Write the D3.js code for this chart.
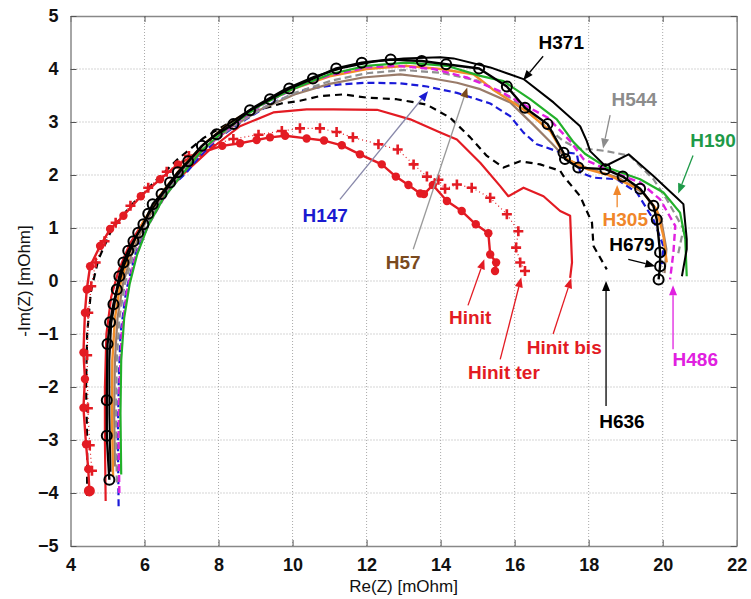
<!DOCTYPE html>
<html>
<head>
<meta charset="utf-8">
<script src="https://cdn.jsdelivr.net/npm/d3@7"></script>
<style>
  body { margin: 0; background: #fff; }
  svg text { font-family: Arial, "Liberation Sans", sans-serif; }
</style>
</head>
<body>
<script>
// Nyquist plot data, [Re(Z), -Im(Z)] in mOhm
var hinit = [[4.51,-3.96],[4.48,-3.55],[4.42,-3.08],[4.35,-2.39],[4.39,-1.85],[4.35,-1.35],[4.39,-0.6],[4.44,-0.16],[4.53,0.28],[4.8,0.66],[5.07,0.98],[5.43,1.23],[5.9,1.6],[6.42,1.92],[6.9,2.2],[7.5,2.42],[8.1,2.55],[8.58,2.6],[9.03,2.66],[9.39,2.71],[9.8,2.74],[10.38,2.69],[10.85,2.65],[11.33,2.56],[11.82,2.39],[12.41,2.2],[12.79,1.97],[13.13,1.81],[13.45,1.65],[13.55,1.64],[13.79,1.81],[14.17,1.51],[14.57,1.32],[14.95,1.07],[15.29,0.9],[15.34,0.5],[15.5,0.35],[15.47,0.19]];
var hinitTer = [[4.58,-3.58],[4.52,-3.1],[4.47,-2.4],[4.45,-1.4],[4.48,-0.6],[4.56,-0.1],[4.68,0.35],[4.92,0.75],[5.22,1.1],[5.62,1.42],[6.1,1.76],[6.6,2.06],[7.2,2.36],[7.8,2.56],[8.4,2.68],[9.08,2.76],[9.71,2.83],[10.2,2.88],[10.74,2.88],[11.19,2.81],[11.63,2.71],[12.32,2.58],[12.84,2.48],[13.27,2.2],[13.63,1.97],[13.94,1.91],[14.12,1.74],[14.44,1.82],[14.84,1.76],[15.34,1.57],[15.79,1.26],[16.1,0.94],[16.04,0.63],[16.15,0.35],[16.28,0.19]];
var hinitBis = [[4.95,-4.15],[4.93,-3],[4.93,-2],[4.97,-1],[5.1,-0.3],[5.3,0.2],[5.6,0.7],[6.0,1.15],[6.5,1.6],[7.1,2.05],[7.8,2.5],[8.58,2.92],[9.48,3.18],[10.38,3.24],[11.1,3.24],[12.28,3.23],[13.18,3.05],[13.99,2.8],[14.44,2.67],[15.07,2.23],[15.61,1.79],[15.83,1.6],[16.24,1.76],[16.78,1.6],[17.23,1.32],[17.5,1.23],[17.55,0.35],[17.5,0.06]];
var h636 = [[4.45,-4.05],[4.45,-3],[4.42,-2],[4.45,-1],[4.55,-0.2],[4.75,0.4],[5.1,0.95],[5.6,1.4],[6.2,1.82],[6.9,2.3],[7.6,2.7],[8.2,2.95],[8.58,3.08],[9.2,3.25],[9.7,3.35],[10.2,3.4],[10.74,3.49],[11.37,3.52],[12.0,3.46],[12.81,3.43],[13.62,3.33],[14.26,3.08],[14.8,2.71],[15.25,2.36],[15.7,2.14],[16.15,2.26],[16.69,2.2],[17.23,2.08],[17.32,1.98],[17.77,1.6],[18.09,1.1],[18.13,0.66],[18.49,0.22]];
var h147 = [[5.3,-4.25],[5.28,-3],[5.3,-2],[5.35,-1],[5.5,-0.2],[5.75,0.5],[6.1,1.1],[6.6,1.7],[7.14,2.05],[7.5,2.36],[8.0,2.7],[8.58,2.98],[9.48,3.37],[10.38,3.62],[11.28,3.71],[12.0,3.74],[12.91,3.73],[13.63,3.67],[14.44,3.55],[15.34,3.35],[15.88,3.11],[16.24,2.8],[16.6,2.58],[17.14,2.45],[17.68,2.4],[17.77,2.05],[18.13,1.95],[18.76,1.92],[19.3,1.67],[19.75,1.16],[20.02,0.66],[19.98,0.32]];
var h57 = [[5.2,-3.5],[5.18,-2.5],[5.2,-1.5],[5.27,-0.7],[5.42,-0.05],[5.67,0.55],[6.02,1.1],[6.47,1.6],[7.0,2.08],[7.65,2.52],[8.35,2.9],[9.15,3.24],[10.05,3.52],[11.0,3.72],[11.9,3.84],[12.91,3.9],[13.63,3.84],[14.44,3.74],[15.07,3.62],[15.88,3.37],[16.5,2.95],[17.0,2.6],[17.4,2.3],[18.0,2.12],[18.8,1.95],[19.5,1.65],[19.95,1.2],[20.1,0.6],[20.05,0.15]];
var h544 = [[5.25,-3.8],[5.23,-2.5],[5.25,-1.5],[5.32,-0.7],[5.47,-0.05],[5.72,0.55],[6.07,1.1],[6.52,1.6],[7.05,2.08],[7.7,2.54],[8.4,2.92],[9.2,3.27],[10.1,3.56],[11.05,3.78],[12.0,3.92],[13.0,3.98],[14.0,3.93],[15.0,3.78],[15.9,3.45],[16.6,3.05],[17.3,2.65],[17.7,2.5],[18.13,2.48],[18.49,2.45],[19.12,2.36],[19.75,1.92],[20.11,1.54],[20.56,0.98],[20.4,0.45]];
var h305 = [[5.15,-3.7],[5.12,-2.5],[5.13,-1.5],[5.2,-0.7],[5.35,-0.05],[5.6,0.55],[5.95,1.1],[6.4,1.6],[6.95,2.1],[7.6,2.58],[8.3,2.98],[9.1,3.32],[10.0,3.62],[11.0,3.86],[12.0,4.0],[13.09,4.06],[13.99,4.0],[14.89,3.9],[15.4,3.62],[15.88,3.4],[16.42,3.15],[16.96,2.83],[17.41,2.3],[18.0,2.1],[18.49,2.01],[19.39,1.73],[19.84,1.35],[20.02,0.85],[20.11,0.35]];
var h486 = [[5.32,-4.0],[5.3,-3],[5.32,-2],[5.38,-1],[5.52,-0.2],[5.75,0.45],[6.1,1.05],[6.55,1.6],[7.1,2.1],[7.7,2.55],[8.4,2.95],[9.2,3.33],[10.1,3.65],[11.0,3.88],[12.0,4.03],[12.81,4.06],[13.81,4.0],[14.71,3.84],[15.61,3.58],[16.24,3.33],[16.9,3.08],[17.5,2.64],[17.86,2.3],[18.67,2.05],[19.39,1.86],[19.93,1.54],[20.34,1.04],[20.29,0.54],[20.2,0.03]];
var h190 = [[5.37,-3.65],[5.35,-2.5],[5.37,-1.5],[5.45,-0.7],[5.6,-0.05],[5.8,0.5],[6.1,1.05],[6.5,1.55],[7.0,2.0],[7.6,2.5],[8.3,2.92],[9.1,3.3],[10.0,3.62],[11.0,3.9],[12.0,4.06],[13.09,4.12],[14.17,4.06],[15.07,3.87],[15.7,3.77],[16.42,3.43],[17.14,3.05],[17.59,2.62],[17.9,2.4],[18.49,2.14],[19.39,1.92],[20.02,1.67],[20.47,1.29],[20.61,0.79],[20.65,0.09]];
var h371 = [[5.08,-3.6],[5.05,-2.5],[5.05,-1.5],[5.1,-0.8],[5.25,-0.2],[5.45,0.3],[5.75,0.8],[6.1,1.25],[6.5,1.65],[7.0,2.1],[7.6,2.58],[8.3,2.98],[9.0,3.3],[9.8,3.62],[10.6,3.86],[11.4,4.03],[12.2,4.14],[13.0,4.2],[13.99,4.22],[14.35,4.2],[15.34,4.03],[16.24,3.81],[17.05,3.37],[17.77,2.92],[17.95,2.64],[18.04,2.45],[18.45,2.17],[19.08,2.39],[19.75,1.98],[20.38,1.57],[20.56,1.45],[20.65,0.79],[20.65,0.6],[20.52,0.09]];
var h679 = [[5.05,-3.75],[4.98,-2.92],[4.98,-2.25],[5.0,-1.19],[5.07,-0.78],[5.16,-0.44],[5.25,-0.16],[5.32,0.09],[5.43,0.35],[5.56,0.57],[5.7,0.75],[5.83,0.91],[5.97,1.07],[6.1,1.27],[6.22,1.45],[6.46,1.64],[6.69,1.86],[6.9,2.05],[7.18,2.26],[7.55,2.55],[7.95,2.77],[8.4,2.96],[8.85,3.22],[9.39,3.43],[9.91,3.63],[10.55,3.82],[11.18,4.01],[11.87,4.12],[12.65,4.18],[13.49,4.15],[14.15,4.09],[15.04,4.01],[15.79,3.67],[16.28,3.27],[16.89,2.96],[17.32,2.42],[17.36,2.3],[17.72,2.14],[18.45,2.11],[18.92,1.97],[19.39,1.74],[19.75,1.42],[19.84,1.16],[19.93,0.54],[19.93,0.28],[19.89,0.03]];

var xTicks = [4, 6, 8, 10, 12, 14, 16, 18, 20, 22];
var yTicks = [-5, -4, -3, -2, -1, 0, 1, 2, 3, 4, 5];

// labels: text, text position, arrow start, arrow tip (data coords)
var labels = [
  { t: "H371", c: "#000", lc: "#000", at: [17.26, 4.5], from: [16.77, 4.24], to: [16.23, 3.79] },
  { t: "H544", c: "#8c8c8c", lc: "#8c8c8c", at: [19.23, 3.43], from: [18.58, 3.13], to: [18.39, 2.5] },
  { t: "H190", c: "#1e9a48", lc: "#1e9a48", at: [21.36, 2.65], from: [20.82, 2.37], to: [20.42, 1.65] },
  { t: "H305", c: "#f0862a", lc: "#f0862a", at: [18.99, 1.16], from: [18.77, 1.39], to: [18.77, 1.81] },
  { t: "H679", c: "#000", lc: "#000", at: [19.17, 0.69], from: [19.07, 0.41], to: [19.8, 0.28] },
  { t: "H486", c: "#e020e0", lc: "#e020e0", at: [20.88, -1.48], from: [20.28, -1.29], to: [20.28, -0.08] },
  { t: "H636", c: "#000", lc: "#000", at: [18.9, -2.65], from: [18.47, -2.36], to: [18.47, 0] },
  { t: "Hinit bis", c: "#e31b23", lc: "#e31b23", at: [17.34, -1.25], from: [17.04, -1.0], to: [17.53, 0.05] },
  { t: "Hinit ter", c: "#e31b23", lc: "#e31b23", at: [15.71, -1.72], from: [15.61, -1.48], to: [16.18, 0.07] },
  { t: "Hinit", c: "#e31b23", lc: "#e31b23", at: [14.8, -0.69], from: [14.74, -0.46], to: [15.18, 0.41] },
  { t: "H57", c: "#7a4a1e", lc: "#999", at: [12.99, 0.35], from: [13.26, 0.6], to: [14.72, 3.65] },
  { t: "H147", c: "#1a1ad0", lc: "#8888aa", at: [10.88, 1.24], from: [11.28, 1.54], to: [13.66, 3.58] }
];

var W = 751, H = 599;
var svg = d3.select("body").append("svg")
    .attr("width", W)
    .attr("height", H);

var x = d3.scaleLinear().domain([4, 22]).range([70.5, 736.7]);
var y = d3.scaleLinear().domain([-5, 5]).range([546, 16]);

// grid
svg.append("g").selectAll("line").data(xTicks.slice(1, -1)).enter().append("line")
    .attr("x1", d => x(d)).attr("x2", d => x(d))
    .attr("y1", y(-5)).attr("y2", y(5))
    .attr("stroke", "#aaa").attr("stroke-width", 1).attr("stroke-dasharray", "1,2");
svg.append("g").selectAll("line").data(yTicks.slice(1, -1)).enter().append("line")
    .attr("x1", x(4)).attr("x2", x(22))
    .attr("y1", d => y(d)).attr("y2", d => y(d))
    .attr("stroke", "#aaa").attr("stroke-width", 1).attr("stroke-dasharray", "1,2");

// axes (ticks inward on all four sides)
var ax = svg.append("g").attr("class", "axes");
ax.append("g").attr("transform", "translate(0," + y(-5) + ")")
    .call(d3.axisBottom(x).tickValues(xTicks).tickSizeInner(-6).tickSizeOuter(0).tickPadding(12));
ax.append("g").attr("transform", "translate(0," + y(5) + ")")
    .call(d3.axisTop(x).tickValues(xTicks).tickSizeInner(-6).tickSizeOuter(0).tickFormat(""));
ax.append("g").attr("transform", "translate(" + x(4) + ",0)")
    .call(d3.axisLeft(y).tickValues(yTicks).tickSizeInner(-6).tickSizeOuter(0).tickPadding(12));
ax.append("g").attr("transform", "translate(" + x(22) + ",0)")
    .call(d3.axisRight(y).tickValues(yTicks).tickSizeInner(-6).tickSizeOuter(0).tickFormat(""));
ax.selectAll(".domain").attr("stroke", "#888").attr("stroke-width", 1.5);
ax.selectAll(".tick line").attr("stroke", "#555");
ax.selectAll(".tick text")
    .attr("font-size", 18).attr("font-weight", "bold").attr("fill", "#111")
    .style("font-family", "Arial, 'Liberation Sans', sans-serif");

svg.append("text")
    .attr("x", (x(4) + x(22)) / 2).attr("y", 592)
    .attr("text-anchor", "middle").attr("font-size", 17).attr("fill", "#111")
    .text("Re(Z) [mOhm]");
svg.append("text")
    .attr("transform", "translate(30," + y(0) + ") rotate(-90)")
    .attr("text-anchor", "middle").attr("font-size", 17).attr("fill", "#111")
    .text("-Im(Z) [mOhm]");

var line = d3.line().x(d => x(d[0])).y(d => y(d[1]));
var plot = svg.append("g");

function drawSeries(data, color, width, dash) {
    plot.append("path").datum(data)
        .attr("d", line)
        .attr("fill", "none")
        .attr("stroke", color)
        .attr("stroke-width", width)
        .attr("stroke-linejoin", "round")
        .attr("stroke-dasharray", dash || null);
}

drawSeries(h636, "#000", 2.2, "7,5");
drawSeries(hinitBis, "#e31b23", 2.2);
drawSeries(hinitTer, "#e31b23", 1.2, "1,3");
plot.append("g").selectAll("path").data(hinitTer).enter().append("path")
    .attr("d", d => "M" + (x(d[0]) - 5) + "," + y(d[1]) + "h10M" + x(d[0]) + "," + (y(d[1]) - 5) + "v10")
    .attr("stroke", "#e31b23").attr("stroke-width", 2.6);
drawSeries(hinit, "#e31b23", 2.4);
plot.append("g").selectAll("circle").data(hinit).enter().append("circle")
    .attr("cx", d => x(d[0])).attr("cy", d => y(d[1]))
    .attr("r", (d, i) => i === 0 ? 5.5 : 4.2)
    .attr("fill", "#e31b23");
drawSeries(h147, "#1a1ad8", 2.2, "7,4");
drawSeries(h57, "#9a7c6a", 2.2);
drawSeries(h544, "#909090", 2.2, "7,4");
drawSeries(h305, "#f28c28", 2.4);
drawSeries(h486, "#e020e0", 2.4, "7,4");
drawSeries(h190, "#22b02a", 2.2);
drawSeries(h371, "#000", 2);
drawSeries(h679, "#000", 2.4);
plot.append("g").selectAll("circle").data(h679).enter().append("circle")
    .attr("cx", d => x(d[0])).attr("cy", d => y(d[1]))
    .attr("r", 5)
    .attr("fill", "none").attr("stroke", "#000").attr("stroke-width", 2);

// annotations with arrows
var ann = svg.append("g");
labels.forEach(function(l) {
    var x0 = x(l.from[0]), y0 = y(l.from[1]), x1 = x(l.to[0]), y1 = y(l.to[1]);
    var a = Math.atan2(y1 - y0, x1 - x0), len = 10, w = 4;
    var bx = x1 - len * Math.cos(a), by = y1 - len * Math.sin(a);
    ann.append("line")
        .attr("x1", x0).attr("y1", y0).attr("x2", bx).attr("y2", by)
        .attr("stroke", l.lc).attr("stroke-width", 1.3);
    ann.append("path")
        .attr("d", "M" + x1 + "," + y1 +
            "L" + (bx + w * Math.sin(a)) + "," + (by - w * Math.cos(a)) +
            "L" + (bx - w * Math.sin(a)) + "," + (by + w * Math.cos(a)) + "Z")
        .attr("fill", l.c);
    ann.append("text")
        .attr("x", x(l.at[0])).attr("y", y(l.at[1]))
        .attr("dy", "0.35em")
        .attr("text-anchor", "middle")
        .attr("font-size", 19).attr("font-weight", "bold")
        .attr("fill", l.c)
        .text(l.t);
});
</script>
</body>
</html>
